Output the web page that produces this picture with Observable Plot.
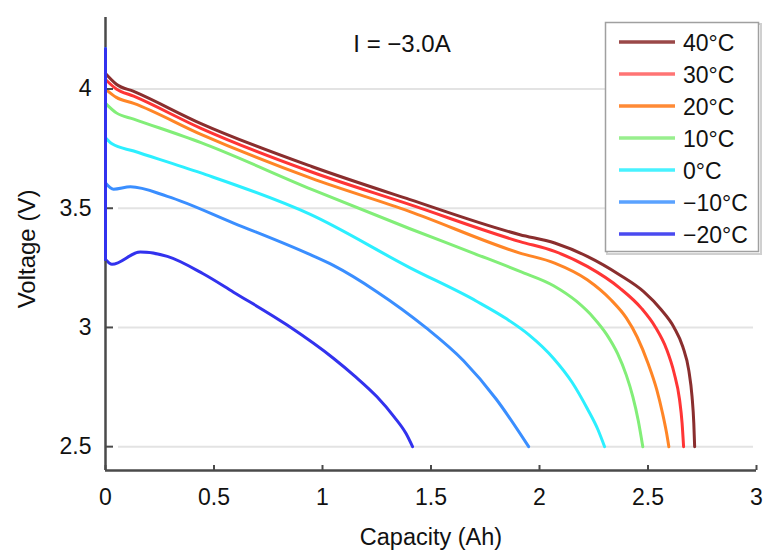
<!DOCTYPE html>
<html>
<head>
<meta charset="utf-8">
<script src="https://cdn.jsdelivr.net/npm/d3@7"></script>
<script src="https://cdn.jsdelivr.net/npm/@observablehq/plot@0.6"></script>
<style>
  html, body { margin: 0; padding: 0; background: #fff; }
  #chart { width: 763px; height: 551px; }
  svg { font-family: "Liberation Sans", Arial, sans-serif; }
</style>
</head>
<body>
<div id="chart"></div>
<script>
// ---- data ----
const temps = ["40°C", "30°C", "20°C", "10°C", "0°C", "−10°C", "−20°C"];
const lineColors = ["#8a2e2e", "#ff3535", "#ff8526", "#82ee78", "#2cefff", "#3a8eff", "#3232ee"];
const legendColors = ["#9a4848", "#ff7474", "#ff8a36", "#98ef8e", "#48f2ff", "#5aa2ff", "#4a4af0"];

// first point of each series = open-circuit voltage at zero capacity (vertical drop)
const cap40 = [0, 0, 0.05, 0.13, 0.44, 0.95, 1.40, 1.91, 2.07, 2.22, 2.37, 2.48, 2.56, 2.62, 2.66, 2.688, 2.703, 2.711, 2.715];
const volt40 = [4.17, 4.065, 4.02, 3.99, 3.855, 3.675, 3.537, 3.389, 3.354, 3.298, 3.22, 3.15, 3.075, 3.0, 2.92, 2.82, 2.71, 2.60, 2.5];

const cap30 = [0, 0, 0.05, 0.13, 0.44, 0.95, 1.40, 1.91, 2.07, 2.22, 2.37, 2.47, 2.535, 2.585, 2.62, 2.645, 2.657, 2.664];
const volt30 = [4.17, 4.04, 4.0, 3.97, 3.835, 3.652, 3.516, 3.36, 3.319, 3.256, 3.165, 3.08, 3.0, 2.91, 2.81, 2.70, 2.60, 2.5];

const cap20 = [0, 0, 0.05, 0.13, 0.44, 0.95, 1.40, 1.91, 2.07, 2.22, 2.33, 2.40, 2.45, 2.50, 2.54, 2.567, 2.585, 2.596];
const volt20 = [4.17, 4.0, 3.965, 3.94, 3.81, 3.625, 3.487, 3.312, 3.27, 3.20, 3.115, 3.04, 2.96, 2.85, 2.74, 2.64, 2.56, 2.5];

const cap10 = [0, 0, 0.05, 0.13, 0.44, 0.95, 1.40, 1.70, 1.91, 2.065, 2.17, 2.25, 2.31, 2.36, 2.40, 2.43, 2.455, 2.476];
const volt10 = [4.17, 3.94, 3.90, 3.874, 3.775, 3.579, 3.415, 3.31, 3.235, 3.175, 3.11, 3.04, 2.97, 2.89, 2.80, 2.71, 2.61, 2.5];

const cap0 = [0, 0, 0.03, 0.13, 0.44, 0.944, 1.404, 1.71, 1.85, 1.95, 2.065, 2.15, 2.22, 2.27, 2.30];
const volt0 = [4.17, 3.795, 3.77, 3.74, 3.648, 3.474, 3.25, 3.11, 3.035, 2.97, 2.87, 2.77, 2.66, 2.57, 2.5];

const capM10 = [0, 0, 0.037, 0.115, 0.285, 0.59, 0.944, 1.05, 1.25, 1.475, 1.65, 1.80, 1.95];
const voltM10 = [4.17, 3.606, 3.58, 3.59, 3.55, 3.438, 3.305, 3.26, 3.15, 3.0, 2.86, 2.70, 2.5];

const capM20 = [0, 0, 0.03, 0.16, 0.285, 0.45, 0.59, 0.837, 1.05, 1.15, 1.25, 1.33, 1.385, 1.415];
const voltM20 = [4.17, 3.285, 3.265, 3.316, 3.298, 3.225, 3.148, 3.01, 2.871, 2.795, 2.71, 2.625, 2.555, 2.5];

const xTicks = [0, 0.5, 1, 1.5, 2, 2.5, 3];
const yTicks = [2.5, 3, 3.5, 4];
const annotation = "I = −3.0A";
const xLabel = "Capacity (Ah)";
const yLabel = "Voltage (V)";

// ---- build tables ----
const caps = [cap40, cap30, cap20, cap10, cap0, capM10, capM20];
const volts = [volt40, volt30, volt20, volt10, volt0, voltM10, voltM20];
const dropRows = [], mainRows = [];
temps.forEach((t, i) => {
  caps[i].forEach((c, j) => {
    const r = {temp: t, cap: c, volt: volts[i][j]};
    if (j < 2) dropRows.push(r);
    if (j >= 1) mainRows.push(r);
  });
});

const W = 763, H = 551;
const plot = Plot.plot({
  width: W,
  height: H,
  marginLeft: 105,
  marginRight: 7,
  marginTop: 17,
  marginBottom: 81,
  style: {fontFamily: "Liberation Sans, Arial, sans-serif", background: "#fff"},
  x: {domain: [0, 3]},
  y: {domain: [2.4, 4.3]},
  color: {domain: temps, range: lineColors},
  marks: [
    Plot.ruleY(yTicks, {stroke: "#e3e3e3", strokeWidth: 2, insetLeft: 13, insetRight: 3}),
    Plot.line(mainRows, {x: "cap", y: "volt", z: "temp", stroke: "temp", strokeWidth: 3, curve: "monotone-x", strokeLinejoin: "round", strokeLinecap: "round"}),
    Plot.ruleX([0], {stroke: "#4a4a4a", strokeWidth: 2.5}),
    Plot.ruleY([2.4], {stroke: "#4a4a4a", strokeWidth: 2.5}),
    Plot.ruleY(yTicks, {x1: 0, x2: 0, insetRight: -8, stroke: "#4a4a4a", strokeWidth: 2}),
    Plot.ruleX(xTicks, {y1: 2.4, y2: 2.4, insetTop: -5, stroke: "#4a4a4a", strokeWidth: 2}),
    Plot.line(dropRows, {x: "cap", y: "volt", z: "temp", stroke: "temp", strokeWidth: 3}),
    Plot.axisX({ticks: xTicks, tickSize: 0, tickPadding: 18, fontSize: 23, tickFormat: d => String(d), label: null, color: "#111"}),
    Plot.axisY({ticks: yTicks, tickSize: 0, tickPadding: 14, fontSize: 23, tickFormat: d => String(d), label: null, color: "#111"})
  ]
});

document.getElementById("chart").appendChild(plot);

const svg = d3.select(plot);
// axis titles
svg.append("text")
  .attr("x", 431).attr("y", 537)
  .attr("text-anchor", "middle").attr("dominant-baseline", "central")
  .attr("font-size", 23.5).attr("fill", "#111")
  .text(xLabel);
svg.append("text")
  .attr("transform", "translate(26,249) rotate(-90)")
  .attr("text-anchor", "middle").attr("dominant-baseline", "central")
  .attr("font-size", 24).attr("fill", "#111")
  .text(yLabel);
// annotation
svg.append("text")
  .attr("x", 402).attr("y", 43)
  .attr("text-anchor", "middle").attr("dominant-baseline", "central")
  .attr("font-size", 24).attr("fill", "#111")
  .text(annotation);

// legend
const lg = svg.append("g");
lg.append("rect").attr("x", 607).attr("y", 24).attr("width", 154).attr("height", 230)
  .attr("fill", "none").attr("stroke", "#d0d0d0").attr("stroke-width", 2);
lg.append("rect").attr("x", 605.5).attr("y", 22.5).attr("width", 153).attr("height", 229)
  .attr("fill", "#fff").attr("stroke", "#a0a0a0").attr("stroke-width", 1.5);
temps.forEach((t, i) => {
  const y = 42 + i * 32;
  lg.append("line").attr("x1", 619).attr("x2", 675).attr("y1", y).attr("y2", y)
    .attr("stroke", legendColors[i]).attr("stroke-width", 3.5);
  lg.append("text").attr("x", 683).attr("y", y + 1)
    .attr("text-anchor", "start")
    .attr("dominant-baseline", "central").attr("font-size", 23).attr("fill", "#111")
    .text(t);
});
</script>
</body>
</html>
